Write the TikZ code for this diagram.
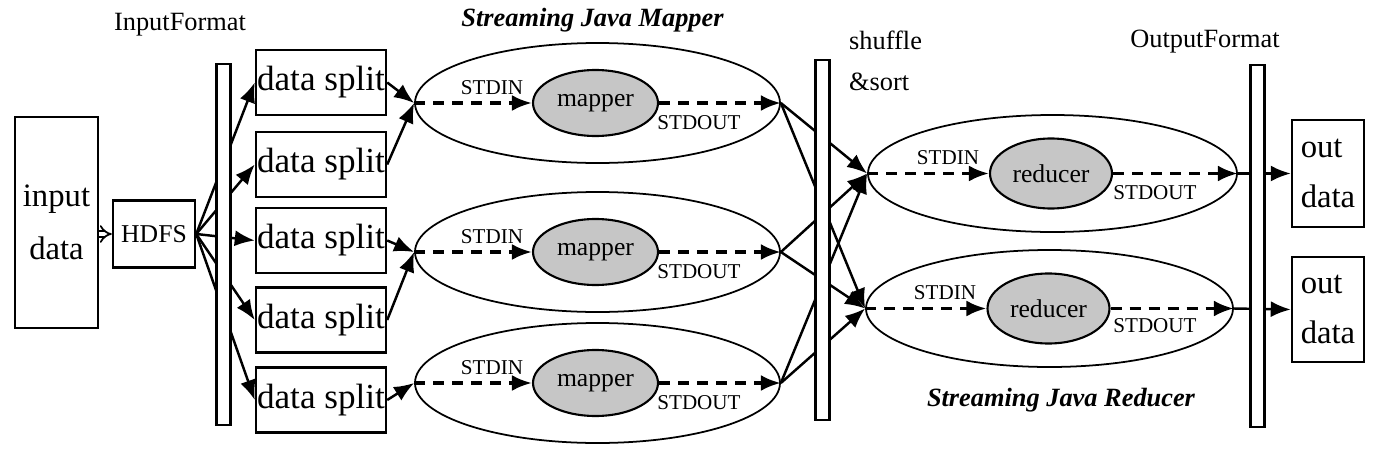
\documentclass[tikz,border=0pt]{standalone}
\usepackage{fontspec}
\setmainfont{Liberation Serif}
\usetikzlibrary{arrows.meta,shapes.geometric}

\begin{document}
\begin{tikzpicture}[line width=0.7pt, >={Latex[length=2mm,width=1.6mm]},
	box/.style = {draw, rectangle, inner sep=0pt},
	split/.style = {box, minimum width=1.3cm, minimum height=0.65cm, font=\fontsize{10}{12}\selectfont},
	bar/.style = {draw, fill=white, rectangle, minimum width=0.14cm, inner sep=0pt},
	task/.style = {draw, ellipse, line width=0.5pt, inner sep=0pt},
	worker/.style = {draw, ellipse, fill=gray!45, line width=0.6pt, inner sep=0pt, font=\fontsize{7.3}{9}\selectfont},
	pipe/.style = {->, line width=1pt, dash pattern=on 1.1mm off 0.8mm},
	io/.style = {font=\fontsize{6}{7}\selectfont, inner sep=0pt},
	lbl/.style = {font=\fontsize{7.5}{11.5}\selectfont, inner sep=0pt},
	title/.style = {font=\fontsize{7.5}{9}\bfseries\itshape\selectfont, inner sep=0pt}]

		\useasboundingbox (0,0) rectangle (13.9,-4.5);

		\node[box, minimum width=0.83cm, minimum height=2.11cm, align=center, font=\fontsize{9.3}{15}\selectfont] (input) at (0.565,-2.225) {input\\data};
		\node[box, minimum width=0.82cm, minimum height=0.67cm, font=\fontsize{7.3}{9}\selectfont] (hdfs) at (1.54,-2.34) {HDFS};

		\node[split] (split1) at (3.21,-0.825) {data split};
		\node[split] (split2) at (3.21,-1.645) {data split};
		\node[split] (split3) at (3.21,-2.405) {data split};
		\node[split] (split4) at (3.21,-3.2) {data split};
		\node[split] (split5) at (3.21,-4.0) {data split};

		\node[task, minimum width=3.65cm, minimum height=1.2cm] (mapbox1) at (5.975,-1.03) {};
		\node[task, minimum width=3.65cm, minimum height=1.2cm] (mapbox2) at (5.975,-2.52) {};
		\node[task, minimum width=3.65cm, minimum height=1.2cm] (mapbox3) at (5.975,-3.83) {};
		\node[worker, minimum width=1.25cm, minimum height=0.66cm] (mapper1) at (5.955,-1.03) {mapper};
		\node[worker, minimum width=1.25cm, minimum height=0.66cm] (mapper2) at (5.955,-2.52) {mapper};
		\node[worker, minimum width=1.25cm, minimum height=0.66cm] (mapper3) at (5.955,-3.83) {mapper};

		\node[task, minimum width=3.69cm, minimum height=1.17cm] (redbox1) at (10.525,-1.735) {};
		\node[task, minimum width=3.67cm, minimum height=1.17cm] (redbox2) at (10.495,-3.085) {};
		\node[worker, minimum width=1.22cm, minimum height=0.7cm] (reducer1) at (10.51,-1.735) {reducer};
		\node[worker, minimum width=1.22cm, minimum height=0.7cm] (reducer2) at (10.485,-3.085) {reducer};

		\node[box, minimum width=0.72cm, minimum height=1.07cm, align=left, font=\fontsize{9.3}{14}\selectfont] (out1) at (13.28,-1.735) {out\\data};
		\node[box, minimum width=0.72cm, minimum height=1.05cm, align=left, font=\fontsize{9.3}{14}\selectfont] (out2) at (13.28,-3.095) {out\\data};

		\draw[double, double distance=1.2pt, line width=0.5pt, -{Implies}] (input.east |- hdfs.west) -- (hdfs.west);
		\foreach \i in {1,...,5}
			\draw[->] (hdfs.east) -- (split\i.west);

		\draw[->] (split1.east) -- (mapbox1.west);
		\draw[->] (split2.east) -- (mapbox1.west);
		\draw[->] (split3.east) -- (mapbox2.west);
		\draw[->] (split4.east) -- (mapbox2.west);
		\draw[->] (split5.east) -- (mapbox3.west);

		\foreach \m in {1,2,3} {
			\draw[pipe] (mapbox\m.west) -- (mapper\m.west);
			\draw[pipe] (mapper\m.east) -- (mapbox\m.east);
			\foreach \r in {1,2}
				\draw[->] (mapbox\m.east) -- (redbox\r.west);
		}
		\foreach \r in {1,2} {
			\draw[pipe] (redbox\r.west) -- (reducer\r.west);
			\draw[pipe] (reducer\r.east) -- (redbox\r.east);
			\draw[->] (redbox\r.east) -- (out\r.west);
		}

		\node[io] (in1) at (4.92,-0.88) {STDIN};
		\node[io] (in2) at (4.92,-2.37) {STDIN};
		\node[io] (in3) at (4.92,-3.68) {STDIN};
		\node[io] (in4) at (9.48,-1.58) {STDIN};
		\node[io] (in5) at (9.45,-2.93) {STDIN};
		\node[io] (out1lbl) at (6.99,-1.23) {STDOUT};
		\node[io] (out2lbl) at (6.99,-2.72) {STDOUT};
		\node[io] (out3lbl) at (6.99,-4.03) {STDOUT};
		\node[io] (out4lbl) at (11.55,-1.93) {STDOUT};
		\node[io] (out5lbl) at (11.55,-3.26) {STDOUT};

		\node[bar, minimum height=3.61cm] (ifbar) at (2.235,-2.445) {};
		\node[bar, minimum height=3.6cm] (shufbar) at (8.225,-2.4) {};
		\node[bar, minimum height=3.62cm] (ofbar) at (12.575,-2.46) {};

		\node[lbl] (ifmt) at (1.8,-0.25) {InputFormat};
		\node[lbl, align=left, anchor=north west] (shuf) at (8.48,-0.3) {shuffle\\\&sort};
		\node[lbl] (ofmt) at (12.05,-0.42) {OutputFormat};
		\node[title] (mtitle) at (5.925,-0.2) {Streaming Java Mapper};
		\node[title] (rtitle) at (10.61,-4.0) {Streaming Java Reducer};
	\end{tikzpicture}
\end{document}
